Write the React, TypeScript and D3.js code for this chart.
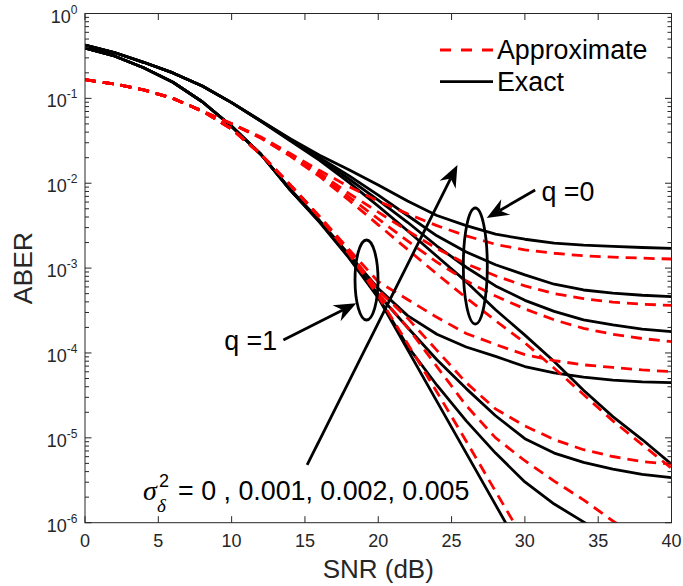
import React from 'react';
import * as d3 from 'd3';

const width = 683;
const height = 586;
const margin = { top: 13.5, right: 11.5, bottom: 63.3, left: 85 };

const snr = [0, 2, 4, 6, 8, 10, 12, 14, 16, 18, 20, 22, 24, 26, 28, 30, 32, 34, 36, 38, 40];

// log10(ABER), null = below the plot
// exact, q = 0, sigma^2 = 0, 0.001, 0.002, 0.005
const exactQ0S0 = [-0.371, -0.46, -0.575, -0.7, -0.855, -1.05, -1.27, -1.5, -1.73, -1.99, -2.27, -2.56, -2.86, -3.16, -3.49, -3.79, -4.1, -4.44, -4.75, -5.02, -5.31];
const exactQ0S1 = [-0.371, -0.46, -0.575, -0.7, -0.855, -1.05, -1.268, -1.49, -1.71, -1.95, -2.2, -2.46, -2.74, -2.99, -3.21, -3.38, -3.51, -3.61, -3.67, -3.72, -3.749];
const exactQ0S2 = [-0.371, -0.46, -0.575, -0.7, -0.855, -1.05, -1.265, -1.485, -1.7, -1.91, -2.14, -2.38, -2.62, -2.81, -2.96, -3.08, -3.19, -3.258, -3.295, -3.32, -3.337];
const exactQ0S5 = [-0.371, -0.46, -0.575, -0.7, -0.855, -1.05, -1.262, -1.475, -1.67, -1.84, -2.02, -2.21, -2.38, -2.5, -2.6, -2.66, -2.705, -2.73, -2.745, -2.757, -2.767];
// exact, q = 1
const exactQ1S0 = [-0.406, -0.5, -0.64, -0.81, -1.04, -1.33, -1.66, -2.08, -2.46, -2.88, -3.35, -3.96, -4.57, -5.18, -5.79, -6.4, null, null, null, null, null];
const exactQ1S1 = [-0.406, -0.5, -0.64, -0.81, -1.04, -1.33, -1.66, -2.08, -2.45, -2.87, -3.34, -3.92, -4.38, -4.8, -5.18, -5.52, -5.78, -5.99, -6.2, null, null];
const exactQ1S2 = [-0.406, -0.5, -0.64, -0.81, -1.04, -1.33, -1.66, -2.08, -2.45, -2.86, -3.31, -3.7, -4.08, -4.42, -4.74, -5.01, -5.18, -5.29, -5.37, -5.43, -5.47];
const exactQ1S5 = [-0.406, -0.5, -0.64, -0.81, -1.04, -1.33, -1.66, -2.07, -2.44, -2.84, -3.24, -3.56, -3.78, -3.93, -4.04, -4.16, -4.235, -4.285, -4.32, -4.34, -4.35];
// approximate, q = 0
const approxQ0S0 = [-0.78, -0.83, -0.9, -1.0, -1.15, -1.3, -1.47, -1.68, -1.92, -2.2, -2.49, -2.78, -3.07, -3.35, -3.62, -3.88, -4.18, -4.49, -4.8, -5.08, -5.36];
const approxQ0S1 = [-0.78, -0.83, -0.9, -1.0, -1.15, -1.3, -1.465, -1.67, -1.9, -2.16, -2.42, -2.68, -2.93, -3.15, -3.33, -3.48, -3.61, -3.71, -3.78, -3.83, -3.867];
const approxQ0S2 = [-0.78, -0.83, -0.9, -1.0, -1.15, -1.3, -1.46, -1.66, -1.88, -2.12, -2.34, -2.56, -2.77, -2.95, -3.09, -3.21, -3.3, -3.36, -3.4, -3.425, -3.44];
const approxQ0S5 = [-0.78, -0.83, -0.9, -1.0, -1.15, -1.3, -1.455, -1.65, -1.85, -2.04, -2.21, -2.36, -2.5, -2.62, -2.72, -2.785, -2.825, -2.855, -2.87, -2.883, -2.893];
// approximate, q = 1
const approxQ1S0 = [-0.78, -0.83, -0.9, -1.0, -1.15, -1.36, -1.66, -2.02, -2.4, -2.83, -3.33, -3.89, -4.46, -5.04, -5.63, -6.22, null, null, null, null, null];
const approxQ1S1 = [-0.78, -0.83, -0.9, -1.0, -1.15, -1.36, -1.66, -2.02, -2.4, -2.82, -3.3, -3.7, -4.16, -4.62, -5.0, -5.27, -5.51, -5.73, -5.98, -6.2, null];
const approxQ1S2 = [-0.78, -0.83, -0.9, -1.0, -1.15, -1.36, -1.66, -2.02, -2.4, -2.81, -3.26, -3.59, -3.97, -4.35, -4.66, -4.86, -5.02, -5.14, -5.22, -5.28, -5.31];
const approxQ1S5 = [-0.78, -0.83, -0.9, -1.0, -1.15, -1.36, -1.66, -2.02, -2.39, -2.78, -3.16, -3.37, -3.58, -3.77, -3.9, -4.02, -4.09, -4.14, -4.17, -4.2, -4.22];

const exactSeries = [exactQ0S0, exactQ0S1, exactQ0S2, exactQ0S5, exactQ1S0, exactQ1S1, exactQ1S2, exactQ1S5];
const approxSeries = [approxQ0S0, approxQ0S1, approxQ0S2, approxQ0S5, approxQ1S0, approxQ1S1, approxQ1S2, approxQ1S5];

const xTicks = [0, 5, 10, 15, 20, 25, 30, 35, 40];
const yDecades = [0, -1, -2, -3, -4, -5, -6];

const legendLabels = ['Approximate', 'Exact'];
const sigmaValues = '= 0 , 0.001, 0.002, 0.005';

// annotations, in (SNR dB, log10 ABER)
const bigArrow = { from: [15.15, -5.32], to: [25.4, -1.785] };
const q1Arrow = { from: [13.53, -3.847], to: [18.5, -3.415] };
const q0Arrow = { from: [30.7, -2.08], to: [27.4, -2.41] };
const q1Ellipse = { c: [19.2, -3.14], rx: 11.5, ry: 40 };
const q0Ellipse = { c: [26.62, -2.975], rx: 12, ry: 58 };
const q1Text = { at: [9.49, -3.965], label: 'q =1' };
const q0Text = { at: [31.13, -2.209], label: 'q =0' };
const sigmaText = { at: [3.96, -5.732] };

const font = '"Liberation Sans", Arial, Helvetica, sans-serif';
const serif = '"Liberation Serif", "DejaVu Serif", serif';
const axisColor = '#262626';

const Arrow = ({ x1, y1, x2, y2 }) => {
  const a = Math.atan2(y2 - y1, x2 - x1);
  const L = 22, hw = 9, notch = 15;
  const ux = Math.cos(a), uy = Math.sin(a);
  const px = -uy, py = ux;
  const bx = x2 - ux * L, by = y2 - uy * L;
  const nx = x2 - ux * notch, ny = y2 - uy * notch;
  const head = `M${x2},${y2}L${bx + px * hw},${by + py * hw}L${nx},${ny}L${bx - px * hw},${by - py * hw}Z`;
  return (
    <g>
      <line x1={x1} y1={y1} x2={nx} y2={ny} stroke="black" strokeWidth={2.8} />
      <path d={head} fill="black" />
    </g>
  );
};

const App = () => {
  const innerRight = width - margin.right;
  const innerBottom = height - margin.bottom;

  const x = d3.scaleLinear().domain([0, 40]).range([margin.left, innerRight]);
  const y = d3.scaleLog().domain([1e-6, 1]).range([innerBottom, margin.top]);
  const ly = (v: number) => y(Math.pow(10, v));

  const path = d3
    .line<number | null>()
    .defined(v => v != null)
    .x((_, i) => x(snr[i]))
    .y(v => ly(v as number));

  const minorTicks = y.ticks().filter(t => Math.abs(Math.log10(t) - Math.round(Math.log10(t))) > 1e-6);

  const P = ([s, l]: number[]) => [x(s), ly(l)];

  const arrows = [bigArrow, q1Arrow, q0Arrow].map((a, i) => {
    const [x1, y1] = P(a.from);
    const [x2, y2] = P(a.to);
    return <Arrow key={i} x1={x1} y1={y1} x2={x2} y2={y2} />;
  });

  const [sx, sy] = P(sigmaText.at);

  return (
    <svg width={width} height={height} style={{ position: 'absolute', left: 0, top: 0, background: 'white' }} fontFamily={font}>
      <defs>
        <clipPath id="plot">
          <rect x={margin.left} y={margin.top} width={innerRight - margin.left} height={innerBottom - margin.top} />
        </clipPath>
      </defs>
      <rect width={width} height={height} fill="white" />

      {/* curves */}
      <g clipPath="url(#plot)" fill="none">
        {exactSeries.map((s, i) => (
          <path key={'e' + i} d={path(s)} stroke="black" strokeWidth={2.8} strokeLinejoin="round" />
        ))}
        {approxSeries.map((s, i) => (
          <path key={'a' + i} d={path(s)} stroke="#ff0000" strokeWidth={2.8} strokeDasharray="11 7" />
        ))}
      </g>

      {/* axes box and ticks */}
      <g stroke={axisColor} strokeWidth={1}>
        <rect x={margin.left} y={margin.top} width={innerRight - margin.left} height={innerBottom - margin.top} fill="none" />
        {xTicks.map(t => (
          <g key={t}>
            <line x1={x(t)} x2={x(t)} y1={innerBottom} y2={innerBottom - 6.5} />
            <line x1={x(t)} x2={x(t)} y1={margin.top} y2={margin.top + 6.5} />
          </g>
        ))}
        {yDecades.map(d => (
          <g key={d}>
            <line x1={margin.left} x2={margin.left + 6.5} y1={ly(d)} y2={ly(d)} />
            <line x1={innerRight} x2={innerRight - 6.5} y1={ly(d)} y2={ly(d)} />
          </g>
        ))}
        {minorTicks.map(t => (
          <g key={t}>
            <line x1={margin.left} x2={margin.left + 4} y1={y(t)} y2={y(t)} />
            <line x1={innerRight} x2={innerRight - 4} y1={y(t)} y2={y(t)} />
          </g>
        ))}
      </g>

      {/* tick labels */}
      <g fill={axisColor}>
        {xTicks.map(t => (
          <text key={t} x={x(t)} y={innerBottom + 24.5} fontSize={18} textAnchor="middle">
            {t}
          </text>
        ))}
        {yDecades.map(d => (
          <text key={d} x={77.5} y={ly(d) + 9} fontSize={18} textAnchor="end">
            10
            <tspan dy={-9} fontSize={12}>
              {d}
            </tspan>
          </text>
        ))}
        <text x={(margin.left + innerRight) / 2} y={578} fontSize={26} textAnchor="middle">
          SNR (dB)
        </text>
        <text transform={`translate(32,${(margin.top + innerBottom) / 2}) rotate(-90)`} fontSize={26.5} textAnchor="middle">
          ABER
        </text>
      </g>

      {/* legend */}
      <g>
        <line x1={440} x2={493} y1={50} y2={50} stroke="#ff0000" strokeWidth={2.8} strokeDasharray="11 10" />
        <line x1={440} x2={493} y1={81.7} y2={81.7} stroke="black" strokeWidth={2.8} />
        <text x={497} y={59} fontSize={26.8}>
          {legendLabels[0]}
        </text>
        <text x={497} y={91} fontSize={26.8}>
          {legendLabels[1]}
        </text>
      </g>

      {/* annotations */}
      <g fill="none" stroke="black" strokeWidth={2.8}>
        {[q1Ellipse, q0Ellipse].map((e, i) => {
          const [cx, cy] = P(e.c);
          return <ellipse key={i} cx={cx} cy={cy} rx={e.rx} ry={e.ry} />;
        })}
      </g>
      {arrows}
      {[q1Text, q0Text].map((t, i) => {
        const [tx, ty] = P(t.at);
        return (
          <text key={i} x={tx} y={ty} fontSize={26.8}>
            {t.label}
          </text>
        );
      })}
      <text x={sx} y={sy} fontSize={28} fontStyle="italic" fontFamily={serif}>
        σ
      </text>
      <text x={sx + 16} y={sy - 13} fontSize={18}>
        2
      </text>
      <text x={sx + 14} y={sy + 12} fontSize={19} fontStyle="italic" fontFamily={serif}>
        δ
      </text>
      <text x={sx + 35} y={sy} fontSize={26.8}>
        {sigmaValues}
      </text>
    </svg>
  );
};

export default App;
